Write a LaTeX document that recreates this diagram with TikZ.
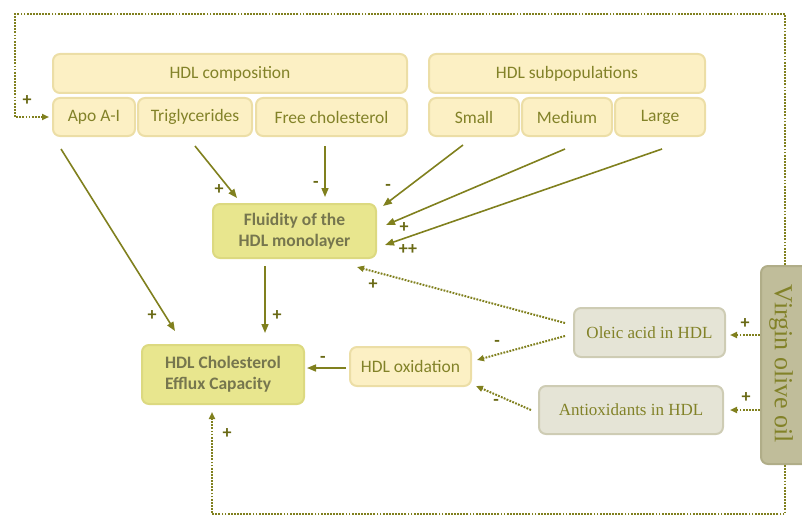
\documentclass[tikz,border=0pt]{standalone}
\usepackage{fontspec}
\setmainfont{Carlito}
\newfontfamily\oilSerif{Liberation Serif}
\usetikzlibrary{positioning,arrows.meta}
\definecolor{oliveLine}{RGB}{128,128,30}
\definecolor{oliveText}{RGB}{130,130,40}
\definecolor{signColor}{RGB}{105,105,20}
\definecolor{paleFill}{RGB}{252,240,196}
\definecolor{paleEdge}{RGB}{236,222,166}
\definecolor{keyFill}{RGB}{232,230,142}
\definecolor{keyEdge}{RGB}{220,217,128}
\definecolor{keyText}{RGB}{118,118,78}
\definecolor{greyFill}{RGB}{229,228,214}
\definecolor{greyEdge}{RGB}{206,204,180}
\definecolor{oilFill}{RGB}{192,189,154}
\definecolor{oilEdge}{RGB}{176,173,136}
\tikzstyle{diagram} = [x=1pt, y=-1pt]
\tikzstyle{boxBase} = [rounded corners=7pt, line width=2pt, inner sep=0pt, align=center]
\tikzstyle{paleBox} = [boxBase, fill=paleFill, draw=paleEdge, text=oliveText, font=\fontsize{17.5}{20}\selectfont]
\tikzstyle{keyBox} = [boxBase, fill=keyFill, draw=keyEdge, text=keyText, font=\fontsize{17.5}{21}\selectfont\bfseries]
\tikzstyle{greyBox} = [boxBase, fill=greyFill, draw=greyEdge, text=oliveText, font=\oilSerif\fontsize{17}{20}\selectfont]
\tikzstyle{oilBox} = [boxBase, fill=oilFill, draw=oilEdge]
\tikzstyle{oilText} = [text=oliveText, font=\oilSerif\fontsize{26}{28}\selectfont, rotate=-90]
\tikzstyle{effect} = [draw=oliveLine, line width=1.6pt, -{Triangle[length=9pt, width=7pt]}]
\tikzstyle{oilEffect} = [draw=oliveLine, line width=2pt, dash pattern=on 1.8pt off 1.3pt, -{Triangle[length=7pt, width=6pt]}]
\tikzstyle{signText} = [text=signColor, font=\fontsize{18}{18}\selectfont\bfseries, inner sep=0pt]
\tikzset{boxSize/.style 2 args={minimum width=#1, minimum height=#2}}
\newcommand{\signLabel}[4]{\node [signText] (#1) at (#2,#3) {#4};}

\begin{document}
\begin{tikzpicture}[diagram]
    \useasboundingbox (0,0) rectangle (802,516);
    % composition and subpopulations
    \node [paleBox, boxSize={354}{39}] (composition) at (230,73.5) {HDL composition};
    \node [paleBox, boxSize={82}{38}] (apo) at (94,117) {Apo A-I};
    \node [paleBox, boxSize={114}{38}] (trig) at (195,117) {Triglycerides};
    \node [paleBox, boxSize={151}{38}] (freeChol) at (331.5,117) {Free cholesterol};
    \node [paleBox, boxSize={276}{39}] (subpop) at (567,73.5) {HDL subpopulations};
    \node [paleBox, boxSize={90}{38}] (small) at (474,117) {Small};
    \node [paleBox, boxSize={90}{38}] (medium) at (567,117) {Medium};
    \node [paleBox, boxSize={90}{38}] (large) at (660,117) {Large};
    % central boxes
    \node [keyBox, boxSize={163}{54}] (fluidity) at (294.5,231) {Fluidity of the\\HDL monolayer};
    \node [keyBox, boxSize={162}{59}, align=left] (efflux) at (223,374.5) {HDL Cholesterol\\Efflux Capacity};
    \node [paleBox, boxSize={121}{39}] (oxidation) at (410.5,366.5) {HDL oxidation};
    \node [greyBox, boxSize={151}{49}] (oleic) at (649.5,332.5) {Oleic acid in HDL};
    \node [greyBox, boxSize={184}{48}] (antiox) at (631,410) {Antioxidants in HDL};
    \node [oilBox, boxSize={48}{198}] (oil) at (785,365) {};
    \node [oilText] (oilLabel) at (781,364) {Virgin olive oil};
    \coordinate (topCorner) at (15,14);
    \coordinate (bottomCorner) at (212,514);
    % solid effects
    \draw [effect] ([xshift=9pt, yshift=-12pt]apo.south west) -- ([xshift=34pt, yshift=13pt]efflux.north west);
    \draw [effect] ([yshift=-9pt]trig.south) -- ([xshift=25pt, yshift=5pt]fluidity.north west);
    \draw [effect] ([xshift=-6.5pt, yshift=-9pt]freeChol.south) -- ([xshift=30.5pt, yshift=6pt]fluidity.north);
    \draw [effect] ([xshift=-11pt, yshift=-8pt]small.south) -- ([xshift=6pt, yshift=-3pt]fluidity.north east);
    \draw [effect] ([xshift=-2pt, yshift=-12pt]medium.south) -- ([xshift=9pt, yshift=6pt]fluidity.east);
    \draw [effect] ([xshift=2pt, yshift=-12pt]large.south) -- ([xshift=8pt, yshift=-14pt]fluidity.east);
    \draw [effect] ([xshift=-29.5pt, yshift=-7pt]fluidity.south) -- ([xshift=42pt, yshift=11pt]efflux.north);
    \draw [effect] ([xshift=-3pt, yshift=-1.5pt]oxidation.west) -- ([xshift=2pt, yshift=6.5pt]efflux.east);
    % olive oil effects
    \draw [oilEffect] ([xshift=-8pt, yshift=9.5pt]oleic.west) -- ([xshift=-20pt, yshift=-8pt]fluidity.south east);
    \draw [oilEffect] ([xshift=-8pt, yshift=-3.5pt]oleic.west) -- ([xshift=5pt, yshift=6.5pt]oxidation.east);
    \draw [oilEffect] ([xshift=-7pt]antiox.west) -- ([xshift=4pt, yshift=1pt]oxidation.south east);
    \draw [oilEffect] ([yshift=30pt]oil.west) -- ([xshift=4pt, yshift=-2.5pt]oleic.east);
    \draw [oilEffect] ([yshift=-45pt]oil.west) -- ([xshift=6pt]antiox.east);
    \draw [oilEffect] (oil.north) |- (topCorner) |- ([xshift=-3pt]apo.west);
    \draw [oilEffect] (oil.south) |- (bottomCorner) -- ([xshift=-11pt, yshift=-7pt]efflux.south);
    % signs
    \signLabel{signLoop}{27}{101}{+}
    \signLabel{signApo}{152}{316}{+}
    \signLabel{signTrig}{219}{190}{+}
    \signLabel{signFree}{316}{184}{-}
    \signLabel{signSmall}{388}{187}{-}
    \signLabel{signMedium}{404}{228}{+}
    \signLabel{signLarge}{408}{250}{++}
    \signLabel{signFluidity}{373}{285}{+}
    \signLabel{signEfflux}{277}{316}{+}
    \signLabel{signOxidation}{323}{359}{-}
    \signLabel{signOleicOx}{497}{343}{-}
    \signLabel{signAntiox}{496}{402}{-}
    \signLabel{signOilOleic}{745}{324}{+}
    \signLabel{signOilAntiox}{746}{398}{+}
    \signLabel{signBottom}{227}{434}{+}
\end{tikzpicture}
\end{document}
